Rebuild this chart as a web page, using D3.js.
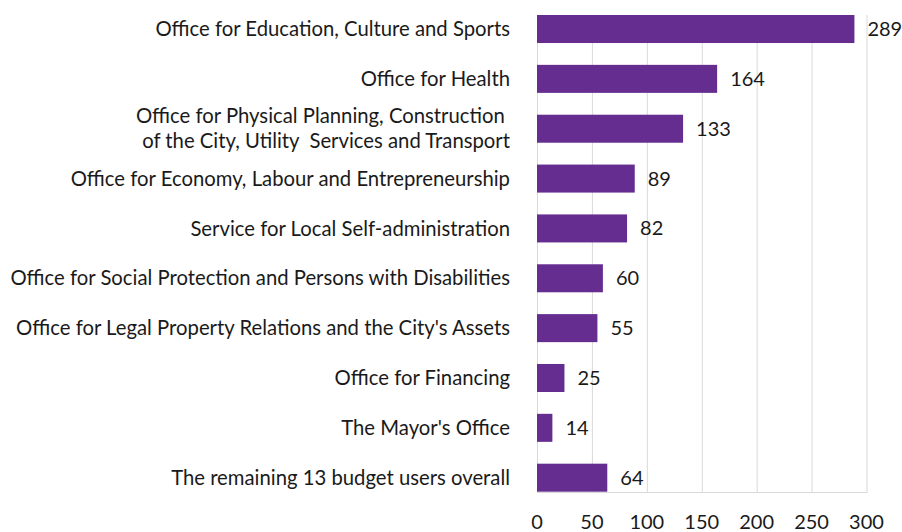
<!DOCTYPE html>
<html>
<head>
<meta charset="utf-8">
<script src="https://cdn.jsdelivr.net/npm/d3@7"></script>
<style>
  html, body { margin: 0; padding: 0; background: #fff; }
  svg { display: block; font-family: Lato, "Open Sans", sans-serif; }
</style>
</head>
<body>
<svg id="chart" width="902" height="532"></svg>
<script>
// category labels (top to bottom); "\n" marks a line break
const categories = [
  'Office for Education, Culture and Sports',
  'Office for Health',
  'Office for Physical Planning, Construction \nof the City, Utility  Services and Transport',
  'Office for Economy, Labour and Entrepreneurship',
  'Service for Local Self-administration',
  'Office for Social Protection and Persons with Disabilities',
  'Office for Legal Property Relations and the City\'s Assets',
  'Office for Financing',
  'The Mayor\'s Office',
  'The remaining 13 budget users overall'
];
const values = [289, 164, 133, 89, 82, 60, 55, 25, 14, 64];
const xTicks = [0, 50, 100, 150, 200, 250, 300];

const svg = d3.select('#chart');
const plot = ({
  left: 537, right: 866.5, top: 15, bottom: 492,
});

const x = d3.scaleLinear()
  .domain([0, 300])
  .range([plot.left, plot.right]);

const y = d3.scaleBand()
  .domain(categories)
  .range([plot.top, 491.7])
  .paddingInner(0.438)
  .paddingOuter(0);

// vertical grid lines
svg.append('g')
  .selectAll('line')
  .data(xTicks)
  .enter().append('line')
  .attr('x1', (d) => x(d) + 0.5)
  .attr('x2', (d) => x(d) + 0.5)
  .attr('y1', plot.top)
  .attr('y2', plot.bottom)
  .attr('stroke', '#d9d9d9')
  .attr('stroke-width', 1);

// baseline
svg.append('line')
  .attr('x1', x(0))
  .attr('x2', x(300) + 1)
  .attr('y1', plot.bottom + 0.5)
  .attr('y2', plot.bottom + 0.5)
  .attr('stroke', '#d9d9d9');

// bars
svg.selectAll('.bar')
  .data(values)
  .enter().append('rect')
  .attr('class', 'bar')
  .attr('x', x(0))
  .attr('y', (d, i) => y(categories[i]))
  .attr('width', (d) => x(d) - x(0))
  .attr('height', y.bandwidth())
  .attr('fill', '#662d91');

// value labels
svg.selectAll('.val')
  .data(values)
  .enter().append('text')
  .attr('class', 'val')
  .attr('x', (d) => x(d) + 13)
  .attr('y', (d, i) => y(categories[i]) + y.bandwidth() / 2)
  .attr('dy', '0.35em')
  .attr('font-size', 20)
  .attr('fill', '#1a1a1a')
  .text((d) => d);

// category labels
const labels = svg.selectAll('.cat')
  .data(categories)
  .enter().append('text')
  .attr('class', 'cat')
  .attr('text-anchor', 'end')
  .attr('font-size', 20.3)
  .attr('fill', '#1a1a1a')
  .style('white-space', 'pre')
  .attr('y', (d) => y(d) + y.bandwidth() / 2);

labels.each(function (d) {
  const lines = d.split('\n');
  const t = d3.select(this);
  lines.forEach((ln, k) => {
    t.append('tspan')
      .attr('x', 510)
      .attr('dy', k === 0 ? `${0.35 - (lines.length - 1) * 0.62}em` : '1.24em')
      .text(ln);
  });
});

// x axis tick labels
svg.append('g')
  .selectAll('text')
  .data(xTicks)
  .enter().append('text')
  .attr('x', (d) => x(d))
  .attr('y', 522)
  .attr('dy', '0.35em')
  .attr('text-anchor', 'middle')
  .attr('font-size', 20)
  .attr('fill', '#1a1a1a')
  .text((d) => d);
</script>
</body>
</html>
